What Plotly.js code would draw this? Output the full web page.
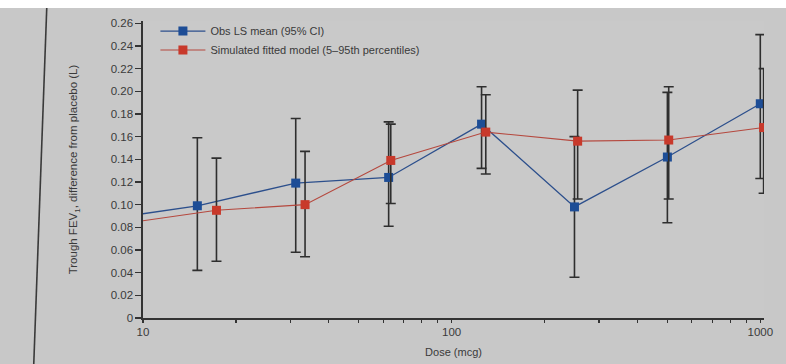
<!DOCTYPE html>
<html>
<head>
<meta charset="utf-8">
<script src="https://cdn.plot.ly/plotly-3.0.1.min.js"></script>
<style>
  html, body { margin: 0; padding: 0; background: #c8c8c8; }
  #chart { width: 786px; height: 364px; }
</style>
</head>
<body>
<div id="chart"></div>
<script>
// Observed LS mean (95% CI)
const obsDose  = [7.5, 15, 31.25, 62.5, 125, 250, 500, 1000];
const obsMean  = [0.087, 0.099, 0.119, 0.124, 0.171, 0.098, 0.142, 0.189];
const obsUpper = [0.087, 0.159, 0.176, 0.173, 0.204, 0.160, 0.199, 0.250];
const obsLower = [0.087, 0.042, 0.058, 0.081, 0.132, 0.036, 0.084, 0.123];

// Simulated fitted model (5-95th percentiles), drawn slightly offset
const simDose  = [7.5, 17.3, 33.5, 63.5, 129, 256, 505, 1025];
const simMean  = [0.081, 0.095, 0.100, 0.139, 0.164, 0.156, 0.157, 0.168];
const simUpper = [0.081, 0.141, 0.147, 0.171, 0.197, 0.201, 0.204, 0.220];
const simLower = [0.081, 0.050, 0.054, 0.101, 0.127, 0.105, 0.105, 0.110];

const yTickVals = [0, 0.02, 0.04, 0.06, 0.08, 0.10, 0.12, 0.14, 0.16, 0.18, 0.20, 0.22, 0.24, 0.26];
const yTickText = ['0', '0.02', '0.04', '0.06', '0.08', '0.10', '0.12', '0.14', '0.16', '0.18', '0.20', '0.22', '0.24', '0.26'];
const xTickVals = [10, 20, 30, 40, 50, 60, 70, 80, 90, 100, 200, 300, 400, 500, 600, 700, 800, 900, 1000];
const xTickText = ['10', '', '', '', '', '', '', '', '', '100', '', '', '', '', '', '', '', '', '1000'];

const legendObs = 'Obs LS mean (95% CI)';
const legendSim = 'Simulated fitted model (5\u201395th percentiles)';

const diff = (a, b) => a.map((v, i) => v - b[i]);

const errStyle = { type: 'data', symmetric: false, color: '#2e2e2e', thickness: 1.6, width: 5 };

const traces = [
  {
    x: obsDose, y: obsMean, name: legendObs, type: 'scatter', mode: 'lines+markers',
    line: { color: '#2c4f8c', width: 1.3 },
    marker: { symbol: 'square', size: 9, color: '#1d4d96', line: { width: 0 } },
    error_y: Object.assign({ array: diff(obsUpper, obsMean), arrayminus: diff(obsMean, obsLower) }, errStyle)
  },
  {
    x: simDose, y: simMean, name: legendSim, type: 'scatter', mode: 'lines+markers',
    line: { color: '#b5483e', width: 1.1 },
    marker: { symbol: 'square', size: 9, color: '#c8392b', line: { width: 0 } },
    error_y: Object.assign({ array: diff(simUpper, simMean), arrayminus: diff(simMean, simLower) }, errStyle)
  }
];

const fontFam = 'Liberation Sans, Arial, sans-serif';
const txt = '#3a3a3a';

const layout = {
  width: 786, height: 364,
  margin: { l: 143, r: 22, t: 21, b: 46 },
  paper_bgcolor: '#c8c8c8',
  plot_bgcolor: '#c9c9c9',
  font: { family: fontFam, size: 11, color: txt },
  showlegend: true,
  legend: {
    x: 0.02, y: 1.015, xanchor: 'left', yanchor: 'top',
    bgcolor: 'rgba(0,0,0,0)', borderwidth: 0,
    font: { family: fontFam, size: 11, color: txt },
    tracegroupgap: 0, itemwidth: 45
  },
  xaxis: {
    type: 'log', range: [1, 3.012],
    tickvals: xTickVals, ticktext: xTickText, tickangle: 0,
    ticks: 'outside', ticklen: 3, tickwidth: 1.2, tickcolor: '#333',
    showline: true, linecolor: '#333', linewidth: 1.6,
    showgrid: false, zeroline: false,
    tickfont: { family: fontFam, size: 11.5, color: txt },
    title: { text: 'Dose (mcg)', font: { family: fontFam, size: 11, color: txt }, standoff: 11 }
  },
  yaxis: {
    range: [0, 0.262],
    tickvals: yTickVals, ticktext: yTickText,
    ticks: 'outside', ticklen: 6, tickwidth: 1.2, tickcolor: '#333',
    showline: true, linecolor: '#333', linewidth: 1.6,
    showgrid: false, zeroline: false,
    tickfont: { family: fontFam, size: 11.5, color: txt },
    title: { text: 'Trough FEV<sub>1</sub>, difference from placebo (L)', font: { family: fontFam, size: 11.5, color: txt }, standoff: 30 }
  },
  shapes: [
    { type: 'rect', xref: 'paper', yref: 'paper', x0: -0.25, x1: 1.06, y0: 1.044, y1: 1.08, fillcolor: '#ffffff', line: { width: 0 }, layer: 'above' },
    { type: 'line', xref: 'paper', yref: 'paper', x0: -0.155, y0: 1.044, x1: -0.176, y1: -0.16, line: { color: '#3a3a3a', width: 1.6 } }
  ]
};

Plotly.newPlot('chart', traces, layout, { displayModeBar: false, staticPlot: true });
</script>
</body>
</html>
